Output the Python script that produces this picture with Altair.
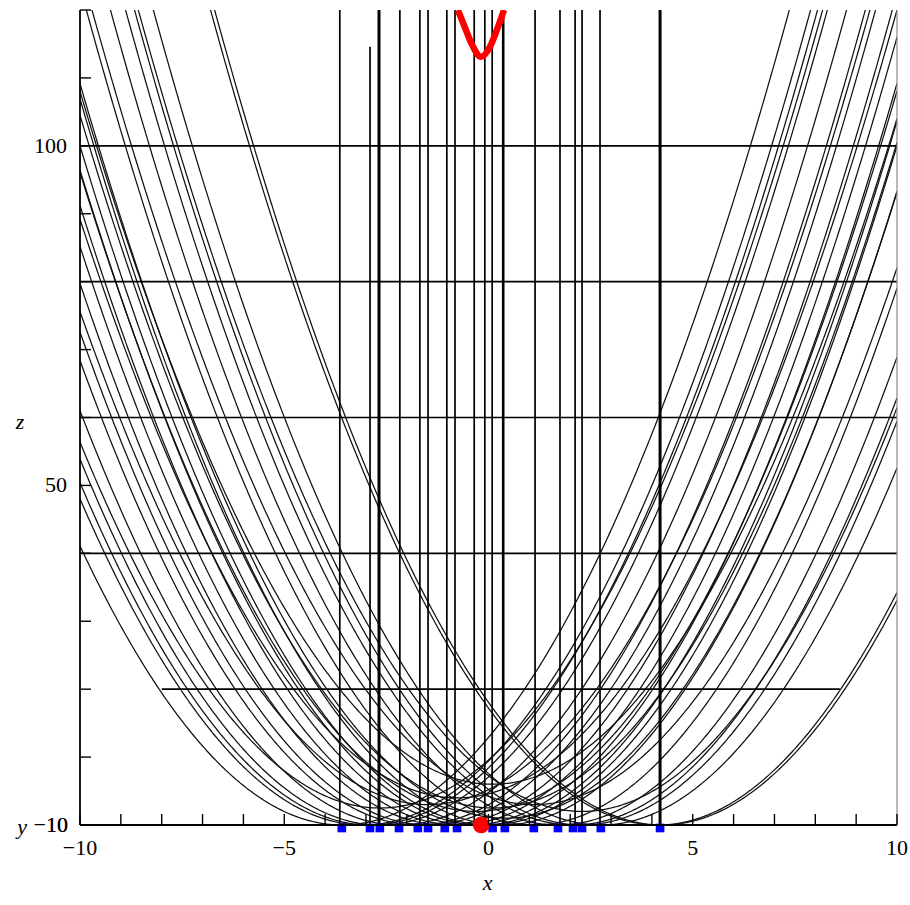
import altair as alt
import pandas as pd
import numpy as np

# ---------------- data ----------------
X_DOMAIN = [-10, 10]
Z_DOMAIN = [0, 120]

# parabolas z = (x - vertex_x)^2 + vertex_z
curve_vertex_x = [-3.59, -3.07, -2.90, -2.66, -2.66, -2.19, -1.73, -1.48, -1.48,
                  -1.07, -0.77, -0.77, -0.45, -0.30, -0.18, 0.00, 0.10, 0.10,
                  0.34, 0.40, 1.11, 1.11, 1.70, 2.07, 2.29, 2.29, 2.75, 4.15, 4.25]
curve_vertex_z = [0.0, 0.0, 0.0, 0.0, 2.5, 0.0, 0.0, 0.0, 3.0,
                  0.0, 0.0, 4.0, 0.0, 2.0, 0.0, 0.0, 2.5, 6.0,
                  0.0, 1.0, 0.0, 3.0, 0.0, 0.0, 0.0, 2.0, 0.0, 0.0, 0.0]

# vertical lines
vertical_x = [-3.64, -2.90, -2.68, -2.17, -1.68, -1.48, -1.02, -0.82, -0.35,
              -0.09, 0.09, 0.36, 1.14, 1.75, 2.12, 2.29, 2.73, 4.20]
vertical_top = [120, 114.6, 120, 120, 120, 120, 120, 120, 120,
                120, 120, 120, 120, 120, 120, 120, 120, 120]
vertical_w = [1.7, 1.7, 3.0, 1.7, 1.7, 1.7, 1.7, 1.7, 1.7,
              1.7, 1.7, 2.6, 1.7, 1.7, 1.7, 1.7, 1.7, 3.0]

# horizontal lines
horizontal_z = [100, 80, 60, 40, 20]
horizontal_from = [-10, -10, -10, -10, -8.0]
horizontal_to = [10, 10, 10, 10, 8.6]

# blue points on the floor
blue_x = [-3.59, -2.90, -2.66, -2.19, -1.73, -1.48, -1.07, -0.77,
          0.10, 0.40, 1.11, 1.70, 2.07, 2.29, 2.75, 4.20]

# red point and red curve
red_dot_x = [-0.18]
red_curve_x = [-0.75, -0.575, -0.404, -0.184, 0.037, 0.208, 0.38]
red_curve_z = [120.0, 117.4, 114.9, 113.1, 114.6, 117.1, 120.0]

# axis tick values and labels
x_ticks = list(range(-10, 11))
z_ticks = list(range(0, 121, 10))
x_label_vals = [-10, -5, 0, 5, 10]
x_label_txt = ["\u221210", "\u22125", "0", "5", "10"]
z_label_vals = [50, 100]
z_label_txt = ["50", "100"]

# ---------------- build tables ----------------
W, H = 817, 815
xs = np.round(np.arange(-10, 10.0001, 0.04), 3)
rows = []
for i, (a, c) in enumerate(zip(curve_vertex_x, curve_vertex_z)):
    zz = (xs - a) ** 2 + c
    for xv, zv in zip(xs, zz):
        if zv <= 135:
            rows.append({"curve": i, "x": float(xv), "z": float(zv)})
curves_df = pd.DataFrame(rows)

xs_scale = alt.Scale(domain=X_DOMAIN, nice=False, zero=False)
zs_scale = alt.Scale(domain=Z_DOMAIN, nice=False, zero=False)
X = lambda f="x": alt.X(f"{f}:Q", scale=xs_scale, axis=None)
Y = lambda f="z": alt.Y(f"{f}:Q", scale=zs_scale, axis=None)

FONT = "Liberation Serif"

curves = alt.Chart(curves_df).mark_line(color="#111111", strokeWidth=1.25, clip=True).encode(
    x=X(), y=Y(), detail="curve:N", order="x:Q")

vert_df = pd.DataFrame({"x": vertical_x, "z0": [0] * len(vertical_x),
                        "z1": vertical_top, "w": vertical_w})
verticals = alt.Chart(vert_df).mark_rule(color="black", clip=True).encode(
    x=X(), y=Y("z0"), y2="z1:Q", strokeWidth=alt.StrokeWidth("w:Q", scale=None))

hor_df = pd.DataFrame({"z": horizontal_z, "x0": horizontal_from, "x1": horizontal_to})
horizontals = alt.Chart(hor_df).mark_rule(color="black", strokeWidth=1.7).encode(
    y=Y(), x=X("x0"), x2="x1:Q")

red_df = pd.DataFrame({"x": red_curve_x, "z": red_curve_z})
red_curve = alt.Chart(red_df).mark_line(color="#ff0000", strokeWidth=6.5, clip=True,
                                        interpolate="monotone").encode(x=X(), y=Y())

blue_df = pd.DataFrame({"x": blue_x, "z": [0] * len(blue_x)})
blue = alt.Chart(blue_df).mark_square(color="#0000ff", size=75, opacity=1, yOffset=3).encode(
    x=X(), y=Y())

axis_df = pd.DataFrame({"x0": [-10, -10], "x1": [10, -10], "z0": [0, 0], "z1": [0, 120]})
axes_lines = alt.Chart(axis_df).mark_rule(color="black", strokeWidth=1.8).encode(
    x=X("x0"), x2="x1:Q", y=Y("z0"), y2="z1:Q")

right_df = pd.DataFrame({"x": [10], "z0": [0], "z1": [120]})
right_line = alt.Chart(right_df).mark_rule(color="#888888", strokeWidth=1.2).encode(
    x=X(), y=Y("z0"), y2="z1:Q")

red_dot_df = pd.DataFrame({"x": red_dot_x, "z": [0]})
red_dot = alt.Chart(red_dot_df).mark_circle(color="#ff0000", size=280, opacity=1).encode(
    x=X(), y=Y())

xt_df = pd.DataFrame({"x": x_ticks})
xticks = alt.Chart(xt_df).mark_rule(color="black", strokeWidth=1.4).encode(
    x=X(), y=alt.value(H), y2=alt.value(H - 11))

zt_df = pd.DataFrame({"z": z_ticks})
zticks = alt.Chart(zt_df).mark_rule(color="black", strokeWidth=1.4).encode(
    y=Y(), x=alt.value(0), x2=alt.value(11))

xl_df = pd.DataFrame({"x": x_label_vals, "t": x_label_txt})
xlabels = alt.Chart(xl_df).mark_text(font=FONT, fontSize=22, baseline="middle",
                                     align="center", color="black").encode(
    x=X(), y=alt.value(H + 23), text="t:N")

zl_df = pd.DataFrame({"z": z_label_vals, "t": z_label_txt})
zlabels = alt.Chart(zl_df).mark_text(font=FONT, fontSize=22, baseline="middle",
                                     align="right", color="black").encode(
    y=Y(), x=alt.value(-13), text="t:N")

corner_df = pd.DataFrame({"t": ["\u221210", "10"]})
corner = alt.Chart(corner_df).mark_text(font=FONT, fontSize=22, baseline="middle",
                                        align="right", color="black").encode(
    x=alt.value(-12), y=alt.value(H), text="t:N")

titles_df = pd.DataFrame({"t": ["x", "z", "y"], "px": [W / 2 - 1, -60, -58],
                          "py": [H + 58, 412, H + 2]})
titles = alt.Chart(titles_df).mark_text(font=FONT, fontSize=22, fontStyle="italic",
                                        baseline="middle", align="center", color="black").encode(
    x=alt.X("px:Q", scale=None, axis=None), y=alt.Y("py:Q", scale=None, axis=None), text="t:N")

chart = alt.layer(
    curves, verticals, horizontals, red_curve, blue, axes_lines, right_line, red_dot,
    xticks, zticks, xlabels, zlabels, corner, titles
).properties(
    width=W, height=H,
    padding={"left": 80, "top": 10, "right": 13, "bottom": 80},
    autosize=alt.AutoSizeParams(type="none"),
    background="white",
).configure_view(stroke=None)

chart.save("out.html", embed_options={"renderer": "svg", "actions": False})
